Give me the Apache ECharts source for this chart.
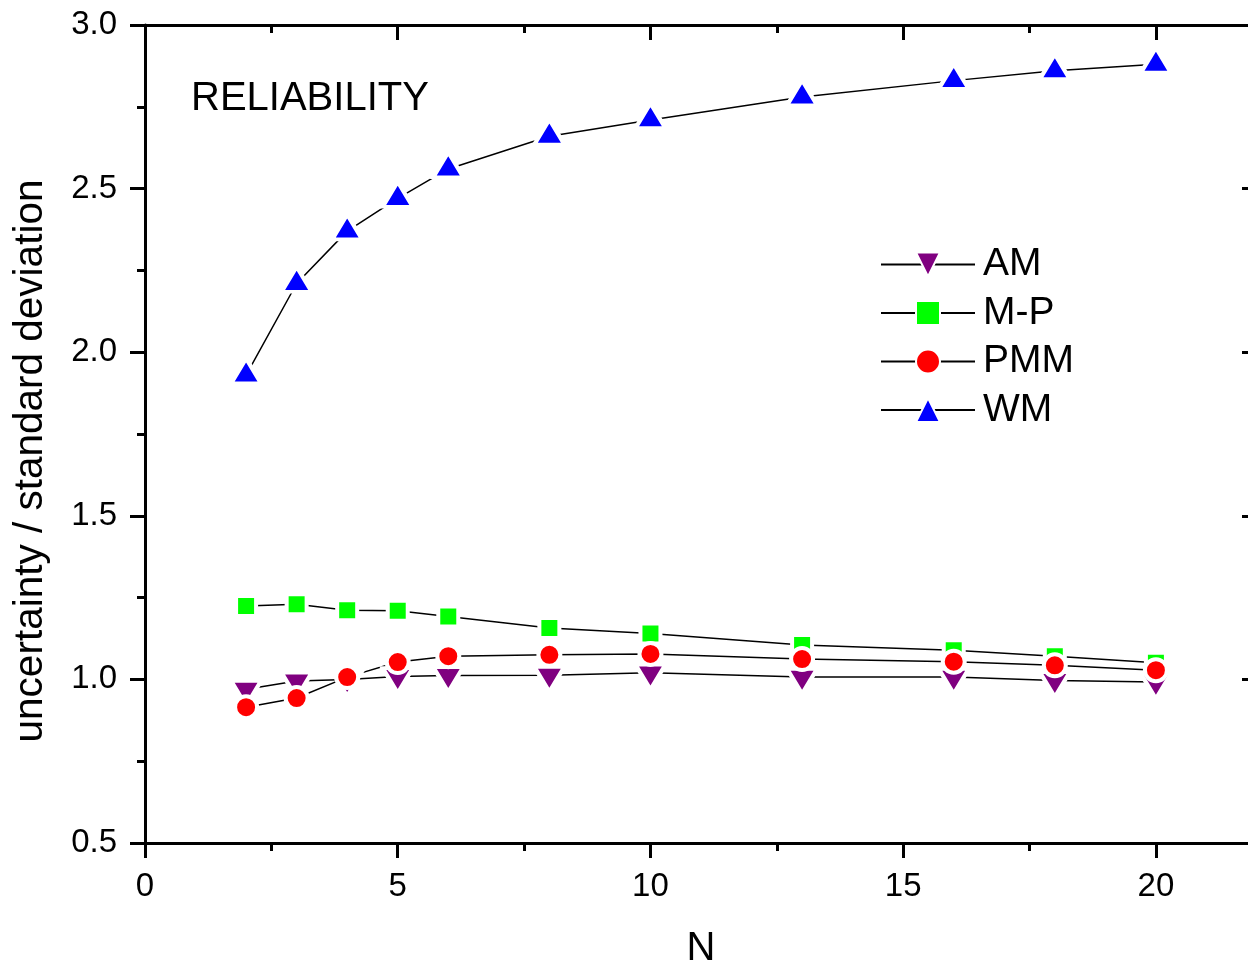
<!DOCTYPE html>
<html>
<head>
<meta charset="utf-8">
<script src="https://cdn.jsdelivr.net/npm/echarts@6/dist/echarts.min.js"></script>
<style>
  body { margin: 0; background: #fff; }
  #main { width: 1248px; height: 965px; }
</style>
</head>
<body>
<div id="main"></div>
<script>
var nValues = [2, 3, 4, 5, 6, 8, 10, 13, 16, 18, 20];
var amValues = [0.97, 0.995, 1.0, 1.009, 1.012, 1.013, 1.02, 1.007, 1.007, 0.997, 0.992];
var mpValues = [1.224, 1.23, 1.211, 1.21, 1.192, 1.157, 1.14, 1.105, 1.089, 1.071, 1.051];
var pmmValues = [0.915, 0.943, 1.007, 1.053, 1.071, 1.075, 1.078, 1.062, 1.054, 1.043, 1.028];
var wmValues = [1.93, 2.21, 2.37, 2.47, 2.56, 2.66, 2.71, 2.78, 2.83, 2.86, 2.88];
var xTicks = [0, 5, 10, 15, 20];
var yTicks = ['0.5', '1.0', '1.5', '2.0', '2.5', '3.0'];

var font = 'Liberation Sans, Arial, sans-serif';

function pairs(vals) {
  return nValues.map(function (n, i) { return [n, vals[i]]; });
}

function makeSeries(name, vals, color, symbol, size, extra) {
  var s = {
    name: name,
    type: 'line',
    data: pairs(vals),
    symbol: symbol,
    symbolSize: size,
    showAllSymbol: true,
    lineStyle: { color: '#000', width: 1.5 },
    itemStyle: { color: color, borderColor: '#fff', borderWidth: 4 },
    emphasis: { disabled: true },
    animation: false
  };
  for (var k in extra) s[k] = extra[k];
  return s;
}

function xAxisBase(pos) {
  return {
    type: 'value',
    position: pos,
    min: 0,
    max: 22,
    interval: 5,
    axisLine: { show: true, onZero: false, lineStyle: { color: '#000', width: 3 } },
    axisTick: { show: true, inside: pos === 'top', length: 15, lineStyle: { color: '#000', width: 3 } },
    minorTick: { show: true, splitNumber: 2, length: 8, lineStyle: { color: '#000', width: 3 } },
    splitLine: { show: false },
    axisLabel: {
      show: pos === 'bottom',
      margin: 27,
      fontSize: 33,
      fontFamily: font,
      color: '#000',
      formatter: function (v) { return xTicks.indexOf(v) >= 0 ? String(v) : ''; }
    }
  };
}

function yAxisBase(pos) {
  return {
    type: 'value',
    position: pos,
    min: 0.5,
    max: 3.0,
    interval: 0.5,
    axisLine: { show: true, onZero: false, lineStyle: { color: '#000', width: 3 } },
    axisTick: { show: true, inside: pos === 'right', length: 15, lineStyle: { color: '#000', width: 3 } },
    minorTick: { show: true, splitNumber: 2, length: 8, lineStyle: { color: '#000', width: 3 } },
    splitLine: { show: false },
    axisLabel: {
      show: pos === 'left',
      margin: 28,
      fontSize: 33,
      fontFamily: font,
      color: '#000',
      formatter: function (v) { return yTicks[Math.round((v - 0.5) / 0.5)]; }
    }
  };
}

var xBottom = xAxisBase('bottom');
xBottom.name = 'N';
xBottom.nameLocation = 'middle';
xBottom.nameGap = 86;
xBottom.nameTextStyle = { fontSize: 40, fontFamily: font, color: '#000' };

var yLeft = yAxisBase('left');
yLeft.name = 'uncertainty / standard deviation';
yLeft.nameLocation = 'middle';
yLeft.nameGap = 94;
yLeft.nameTextStyle = { fontSize: 40.5, fontFamily: font, color: '#000', padding: [0, 54, 0, 0] };

var xTop = xAxisBase('top');
var yRight = yAxisBase('right');

var myChart = echarts.init(document.getElementById('main'));
var option = {
  backgroundColor: '#fff',
  animation: false,
  title: {
    text: 'RELIABILITY',
    left: 186,
    top: 74,
    textStyle: { fontSize: 40, fontWeight: 'normal', fontFamily: font, color: '#000' }
  },
  grid: { left: 145, top: 25, width: 1112, height: 818, containLabel: false, outerBoundsMode: 'none' },
  legend: {
    orient: 'vertical',
    left: 875,
    top: 240,
    itemWidth: 94,
    itemHeight: 30,
    itemGap: 9.5,
    data: ['AM', 'M-P', 'PMM', 'WM'],
    textStyle: { fontSize: 39, fontFamily: font, color: '#000', padding: [0, 0, 0, 3] }
  },
  xAxis: [xBottom, xTop],
  yAxis: [yLeft, yRight],
  series: [
    makeSeries('AM', amValues, '#800080', 'triangle', [30, 25], { symbolRotate: 180, symbolOffset: [0, 4.2] }),
    makeSeries('M-P', mpValues, '#00ff00', 'rect', 20, {}),
    makeSeries('PMM', pmmValues, '#ff0000', 'circle', 22, {}),
    makeSeries('WM', wmValues, '#0000ff', 'triangle', [30, 25], { symbolOffset: [0, -4.2] })
  ]
};
myChart.setOption(option);
</script>
</body>
</html>
